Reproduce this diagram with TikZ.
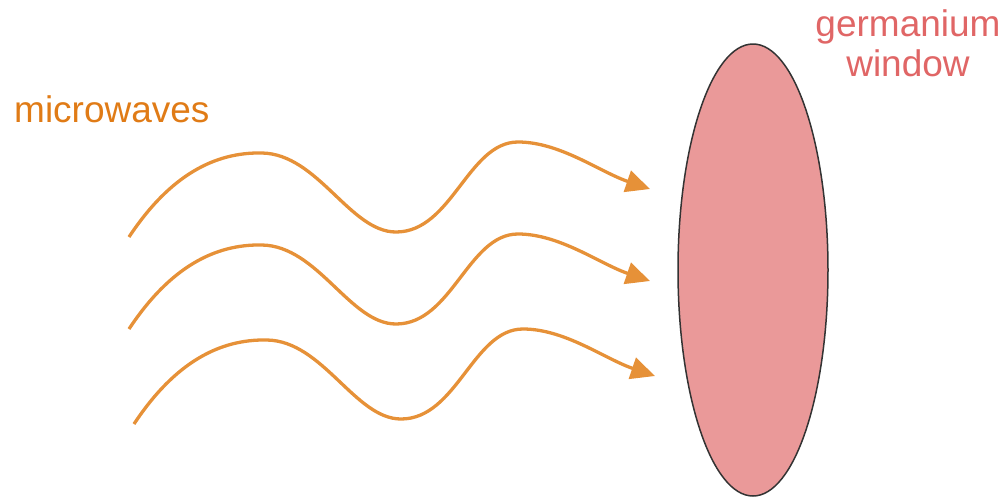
\documentclass[tikz,border=0pt]{standalone}
\usepackage{fontspec}
\setmainfont{Liberation Sans}
\usepackage{xcolor}
\usepackage{tikz}
\usetikzlibrary{arrows.meta,shapes.geometric}

\definecolor{waveorange}{HTML}{E69138}
\definecolor{textorange}{HTML}{E07B16}
\definecolor{windowred}{HTML}{EA9999}
\definecolor{textred}{HTML}{E06666}

\tikzset{
  wave/.style={draw=waveorange, line width=3.3pt, -{Triangle[length=24pt,width=22pt]}},
  label/.style={font=\fontsize{37}{40}\selectfont, inner sep=0pt}
}

\begin{document}
\begin{tikzpicture}[x=1pt,y=-1pt]
            \useasboundingbox (0,0) rectangle (1005,499);

            % window
            \node[draw=black!80, line width=1.5pt, fill=windowred, ellipse, inner sep=0pt,
                  minimum width=150pt, minimum height=452pt] (window) at (753,270) {};

            % waves
            \foreach \dx/\dy/\n in {0/0/1,0/92/2,5/187/3} {
              \coordinate (tip\n) at (650+\dx,189+\dy);
              \draw[wave] (129+\dx,237+\dy) .. controls (170+\dx,175+\dy) and (215+\dx,152+\dy) .. (262+\dx,153+\dy)
                    .. controls (318+\dx,154+\dy) and (350+\dx,232+\dy) .. (396+\dx,232+\dy)
                    .. controls (452+\dx,232+\dy) and (468+\dx,142+\dy) .. (518+\dx,142+\dy)
                    .. controls (560+\dx,142+\dy) and (600+\dx,172+\dy) .. (tip\n);
            }

            \node[label, text=textorange, anchor=base west] (mw) at (14,122) {microwaves};
            \node[label, text=textred, align=center, anchor=base] (ge) at (908,76) {germanium\\window};
\end{tikzpicture}
\end{document}
